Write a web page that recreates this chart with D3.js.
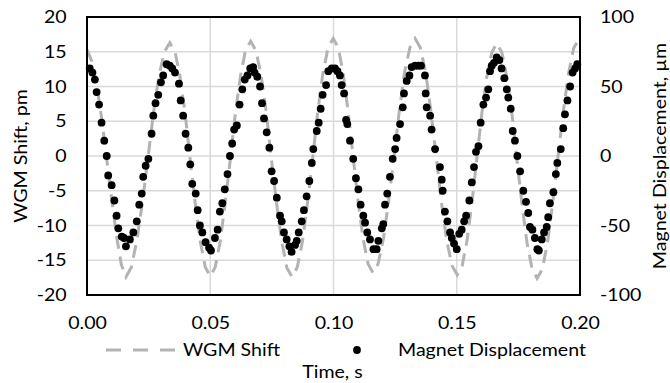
<!DOCTYPE html>
<html>
<head>
<meta charset="utf-8">
<script src="https://cdn.jsdelivr.net/npm/d3@7"></script>
<style>
  html, body { margin: 0; padding: 0; background: #fff; }
  svg { display: block; }
  text { font-family: Lato, "Open Sans", sans-serif; fill: #000; }
</style>
</head>
<body>
<div id="chart"></div>
<script>
// ---- Data ----
const timeTicks = [0, 0.05, 0.10, 0.15, 0.20];
const leftTicks = [-20, -15, -10, -5, 0, 5, 10, 15, 20];
const rightTicks = [-100, -50, 0, 50, 100];

const wgmTime = [
  0.0000, 0.0020, 0.0040, 0.0060, 0.0079, 0.0099, 0.0119, 0.0139, 0.0158,
  0.0180, 0.0202, 0.0225, 0.0247, 0.0269, 0.0291, 0.0314, 0.0336,
  0.0357, 0.0377, 0.0398, 0.0418, 0.0439, 0.0459, 0.0480, 0.0500,
  0.0520, 0.0541, 0.0561, 0.0582, 0.0602, 0.0623, 0.0643, 0.0664,
  0.0685, 0.0706, 0.0727, 0.0748, 0.0769, 0.0790, 0.0811, 0.0832,
  0.0853, 0.0874, 0.0895, 0.0916, 0.0936, 0.0957, 0.0978, 0.0999,
  0.1019, 0.1039, 0.1059, 0.1080, 0.1100, 0.1120, 0.1140, 0.1160,
  0.1181, 0.1203, 0.1224, 0.1246, 0.1267, 0.1288, 0.1310, 0.1331,
  0.1352, 0.1374, 0.1395, 0.1417, 0.1438, 0.1459, 0.1481, 0.1502,
  0.1522, 0.1542, 0.1562, 0.1582, 0.1602, 0.1622, 0.1642, 0.1662,
  0.1683, 0.1703, 0.1724, 0.1744, 0.1765, 0.1785, 0.1806, 0.1826,
  0.1847, 0.1868, 0.1889, 0.1910, 0.1932, 0.1953, 0.1974, 0.1995, 0.2000
];
const wgmShift = [
  15.3, 13.6, 10.2, 5.3, -0.2, -5.9, -11.3, -15.6, -17.4,
  -16.0, -12.2, -6.6, -0.4, 6.0, 11.4, 15.0, 16.3,
  15.0, 11.5, 6.2, -0.4, -6.8, -12.2, -16.0, -17.3,
  -16.0, -12.2, -6.6, -0.3, 6.2, 11.6, 15.2, 16.5,
  15.2, 11.7, 6.4, -0.4, -6.8, -12.3, -16.1, -17.4,
  -16.0, -12.3, -6.6, -0.2, 6.4, 11.9, 15.6, 16.9,
  15.6, 12.0, 6.5, -0.2, -6.6, -11.9, -15.5, -16.8,
  -15.5, -11.8, -6.4, 0.1, 6.5, 12.0, 15.6, 16.9,
  15.6, 12.0, 6.5, -0.2, -6.7, -12.1, -15.8, -17.1,
  -15.8, -12.1, -6.6, -0.2, 6.2, 11.4, 14.9, 16.2,
  14.9, 11.4, 6.1, -0.5, -7.0, -12.5, -16.3, -17.6,
  -16.3, -12.5, -6.8, -0.3, 6.3, 11.8, 15.5, 16.8, 16.6
];

const magTime = [
  0.0011, 0.0022, 0.0032, 0.0039, 0.0049, 0.0059, 0.0070, 0.0080, 0.0086, 0.0100,
  0.0111, 0.0120, 0.0127, 0.0141, 0.0150, 0.0158, 0.0174, 0.0188, 0.0202, 0.0212,
  0.0222, 0.0228, 0.0238, 0.0249, 0.0262, 0.0269, 0.0278, 0.0289, 0.0300, 0.0309,
  0.0323, 0.0336, 0.0346, 0.0357, 0.0373, 0.0380, 0.0390, 0.0400, 0.0411, 0.0419,
  0.0427, 0.0441, 0.0449, 0.0458, 0.0468, 0.0481, 0.0495, 0.0503, 0.0519, 0.0530,
  0.0539, 0.0549, 0.0559, 0.0570, 0.0580, 0.0589, 0.0597, 0.0608, 0.0619, 0.0630,
  0.0640, 0.0651, 0.0662, 0.0674, 0.0680, 0.0691, 0.0702, 0.0710, 0.0718, 0.0729,
  0.0740, 0.0749, 0.0759, 0.0770, 0.0783, 0.0790, 0.0799, 0.0810, 0.0821, 0.0830,
  0.0844, 0.0851, 0.0859, 0.0871, 0.0880, 0.0891, 0.0902, 0.0912, 0.0918, 0.0932,
  0.0940, 0.0948, 0.0956, 0.0970, 0.0979, 0.0993, 0.1006, 0.1016, 0.1026, 0.1033,
  0.1043, 0.1051, 0.1056, 0.1067, 0.1080, 0.1091, 0.1101, 0.1110, 0.1121, 0.1128,
  0.1137, 0.1148, 0.1162, 0.1175, 0.1182, 0.1196, 0.1202, 0.1209, 0.1218, 0.1229,
  0.1240, 0.1250, 0.1256, 0.1270, 0.1281, 0.1286, 0.1297, 0.1308, 0.1317, 0.1331,
  0.1344, 0.1355, 0.1371, 0.1374, 0.1378, 0.1392, 0.1398, 0.1412, 0.1432, 0.1439,
  0.1443, 0.1452, 0.1462, 0.1473, 0.1480, 0.1489, 0.1500, 0.1510, 0.1520, 0.1530,
  0.1538, 0.1551, 0.1561, 0.1570, 0.1578, 0.1588, 0.1597, 0.1608, 0.1619, 0.1628,
  0.1635, 0.1642, 0.1651, 0.1662, 0.1673, 0.1682, 0.1693, 0.1703, 0.1709, 0.1719,
  0.1727, 0.1736, 0.1746, 0.1757, 0.1770, 0.1781, 0.1790, 0.1797, 0.1807, 0.1817,
  0.1827, 0.1833, 0.1845, 0.1854, 0.1865, 0.1871, 0.1878, 0.1892, 0.1902, 0.1908,
  0.1922, 0.1932, 0.1939, 0.1949, 0.1960, 0.1970, 0.1980, 0.1989
];
const magDisp = [
  63, 60, 55, 46, 37, 24, 11, 0, -14, -21,
  -32, -43, -52, -58, -59, -65, -60, -55, -47, -35,
  -27, -15, -7, -2, 16, 29, 38, 44, 53, 58,
  66, 65, 63, 60, 52, 40, 29, 16, 6, -6,
  -20, -27, -39, -50, -55, -62, -66, -68, -59, -53,
  -40, -34, -24, -13, 0, 9, 19, 22, 37, 48,
  55, 58, 63, 64, 60, 57, 50, 38, 27, 17,
  6, -11, -18, -30, -43, -47, -55, -60, -65, -69,
  -64, -61, -55, -47, -39, -29, -18, -5, 5, 18,
  24, 34, 44, 51, 61, 63, 63, 61, 58, 51,
  45, 26, 23, 11, -2, -16, -24, -35, -43, -48,
  -55, -60, -67, -67, -61, -52, -49, -35, -27, -15,
  -2, 5, 13, 23, 35, 45, 54, 58, 64, 65,
  65, 65, 58, 45, 35, 29, 19, 5, -8, -17,
  -25, -40, -47, -55, -59, -63, -67, -56, -53, -47,
  -43, -32, -19, -8, 3, 7, 24, 37, 42, 48,
  61, 65, 67, 71, 69, 63, 56, 48, 42, 34,
  18, 11, 0, -11, -25, -33, -41, -51, -53, -59,
  -67, -68, -60, -55, -51, -44, -34, -26, -13, -5,
  5, 20, 30, 40, 50, 60, 63, 66
];

// ---- Layout ----
const W = 670, H = 383;
const plot = { left: 87, right: 580, top: 17, bottom: 295 };
const FS = 17.5;   // font size
const SX = 1.12;   // horizontal text stretch to mimic the reference's wide lettering

const svg = d3.select("#chart").append("svg").attr("width", W).attr("height", H);

const x = d3.scaleLinear().domain([0, 0.2]).range([plot.left, plot.right]);
const yL = d3.scaleLinear().domain([-20, 20]).range([plot.bottom, plot.top]);
const yR = d3.scaleLinear().domain([-100, 100]).range([plot.bottom, plot.top]);

// gridlines
const grid = svg.append("g");
grid.selectAll("line.h").data(leftTicks.filter(d => d > -20 && d < 20)).join("line")
  .attr("x1", plot.left).attr("x2", plot.right)
  .attr("y1", d => yL(d)).attr("y2", d => yL(d))
  .attr("stroke", "#d9d9d9").attr("stroke-width", 1.5);
grid.selectAll("line.v").data(timeTicks.filter(d => d > 0 && d < 0.2)).join("line")
  .attr("y1", plot.top).attr("y2", plot.bottom)
  .attr("x1", d => x(d)).attr("x2", d => x(d))
  .attr("stroke", "#d9d9d9").attr("stroke-width", 1.5);

const minus = d => d < 0 ? "-" + Math.abs(d) : String(d);

// axes
const axL = svg.append("g").attr("transform", `translate(${plot.left},0)`)
  .call(d3.axisLeft(yL).tickValues(leftTicks).tickSize(0).tickFormat(minus));
const axR = svg.append("g").attr("transform", `translate(${plot.right},0)`)
  .call(d3.axisRight(yR).tickValues(rightTicks).tickSize(0).tickFormat(minus));
const axB = svg.append("g").attr("transform", `translate(0,${plot.bottom})`)
  .call(d3.axisBottom(x).tickValues(timeTicks).tickSize(0).tickPadding(22).tickFormat(d3.format(".2f")));
[axL, axR, axB].forEach(a => {
  a.select(".domain").remove();
  a.selectAll("text").attr("font-size", FS).attr("font-family", "Lato, sans-serif").attr("fill", "#000");
});
axL.selectAll("text").attr("x", 0).attr("transform", `translate(-20.3,0) scale(${SX},1)`);
axR.selectAll("text").attr("x", 0).attr("transform", `translate(20,0) scale(${SX},1)`);
axB.selectAll("text").attr("transform", `scale(${SX},1)`);

// WGM dashed line
const wgmData = wgmTime.map((t, i) => [t, wgmShift[i]]);
svg.append("path")
  .datum(wgmData)
  .attr("d", d3.line().x(d => x(d[0])).y(d => yL(d[1])))
  .attr("fill", "none").attr("stroke", "#b3b3b3").attr("stroke-width", 3)
  .attr("stroke-dasharray", "13,8");

// magnet dots
const magData = magTime.map((t, i) => [t, magDisp[i]]);
svg.append("g").selectAll("circle").data(magData).join("circle")
  .attr("cx", d => x(d[0])).attr("cy", d => yR(d[1])).attr("r", 3.9).attr("fill", "#000");

// frame
svg.append("rect").attr("x", plot.left).attr("y", plot.top)
  .attr("width", plot.right - plot.left).attr("height", plot.bottom - plot.top)
  .attr("fill", "none").attr("stroke", "#000").attr("stroke-width", 2);

// axis titles
const midY = (plot.top + plot.bottom) / 2;
svg.append("text").attr("transform", `translate(27,${midY}) rotate(-90) scale(${SX},1)`)
  .attr("text-anchor", "middle").attr("font-size", FS).text("WGM Shift, pm");
svg.append("text").attr("transform", `translate(666,${midY}) rotate(-90) scale(${SX},1)`)
  .attr("text-anchor", "middle").attr("font-size", FS).text("Magnet Displacement, µm");
svg.append("text").attr("transform", `translate(332.5,378) scale(${SX},1)`)
  .attr("text-anchor", "middle").attr("font-size", FS).text("Time, s");

// legend
const lg = svg.append("g");
lg.append("line").attr("x1", 106).attr("x2", 178).attr("y1", 350).attr("y2", 350)
  .attr("stroke", "#b3b3b3").attr("stroke-width", 3).attr("stroke-dasharray", "15,12");
lg.append("text").attr("transform", `translate(183,356) scale(${SX},1)`).attr("font-size", FS).text("WGM Shift");
lg.append("circle").attr("cx", 357).attr("cy", 350).attr("r", 3.9).attr("fill", "#000");
lg.append("text").attr("transform", `translate(398,356) scale(${SX},1)`).attr("font-size", FS).text("Magnet Displacement");
</script>
</body>
</html>
